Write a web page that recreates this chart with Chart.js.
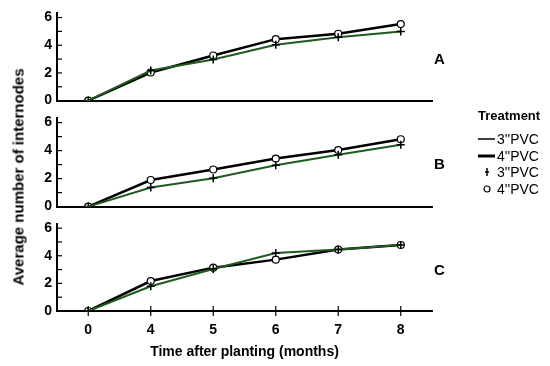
<!DOCTYPE html>
<html>
<head>
<meta charset="utf-8">
<script src="https://cdn.jsdelivr.net/npm/chart.js"></script>
<style>
  body { margin: 0; background: #fff; font-family: "Liberation Sans", Arial, sans-serif; }
  #wrap { position: relative; width: 550px; height: 366px; overflow: hidden; }
  .panel { position: absolute; left: 0; width: 440px; }
  .tag { position: absolute; left: 434px; font-weight: bold; font-size: 15px; }
  #ytitle { position: absolute; left: 18px; top: 177px; transform: translate(-50%, -50%) rotate(-90deg);
            white-space: nowrap; font-weight: bold; font-size: 15px; }
  #legend { position: absolute; left: 478px; top: 108px; font-size: 14px; }
  #legend .head { font-weight: bold; font-size: 13px; margin-bottom: 8px; }
  #legend .row { height: 16.5px; line-height: 16.5px; position: relative; padding-left: 19px; }
  #legend .sym { position: absolute; left: 0; top: 0; width: 17px; height: 16px; }
</style>
</head>
<body>
<div id="wrap">
  <div class="panel" style="top:0;height:114px"><canvas id="chartA"></canvas></div>
  <div class="panel" style="top:105px;height:115px"><canvas id="chartB"></canvas></div>
  <div class="panel" style="top:210px;height:156px"><canvas id="chartC"></canvas></div>
  <div class="tag" style="top:50px">A</div>
  <div class="tag" style="top:155px">B</div>
  <div class="tag" style="top:261px">C</div>
  <div id="ytitle">Average number of internodes</div>
  <div id="legend">
    <div class="head">Treatment</div>
    <div class="row"><svg class="sym"><line x1="0" y1="8" x2="17" y2="8" stroke="#000" stroke-width="1.5"/></svg>3''PVC</div>
    <div class="row"><svg class="sym"><line x1="0" y1="8" x2="17" y2="8" stroke="#000" stroke-width="3"/></svg>4''PVC</div>
    <div class="row"><svg class="sym"><line x1="9" y1="4" x2="9" y2="12" stroke="#000" stroke-width="1.5"/><line x1="7" y1="8" x2="11" y2="8" stroke="#000" stroke-width="1.5"/></svg>3''PVC</div>
    <div class="row"><svg class="sym"><circle cx="9" cy="8" r="3" fill="#fff" stroke="#000" stroke-width="1.2"/></svg>4''PVC</div>
  </div>
</div>
<script>
const months = ["0", "4", "5", "6", "7", "8"];
const yTicks = [0, 2, 4, 6];

const a3 = [0, 2.17, 2.97, 4.03, 4.57, 5.0];
const a4 = [0, 2.03, 3.26, 4.44, 4.83, 5.53];
const b3 = [0, 1.36, 2.02, 2.96, 3.71, 4.41];
const b4 = [0, 1.90, 2.65, 3.43, 4.04, 4.81];
const c3 = [0, 1.79, 3.04, 4.20, 4.45, 4.78];
const c4 = [0, 2.17, 3.14, 3.72, 4.45, 4.78];

const FONT = "'Liberation Sans', Arial, sans-serif";

// small tick marks inside the y axis, crossing marks on the x axis
const tickMarks = {
  id: "tickMarks",
  afterDraw(chart, args, opts) {
    const { ctx, chartArea } = chart;
    const y = chart.scales.y, x = chart.scales.x;
    ctx.save();
    ctx.strokeStyle = "#000";
    ctx.lineWidth = 1.2;
    for (let v = 1; v <= 6; v++) {
      const py = y.getPixelForValue(v);
      ctx.beginPath();
      ctx.moveTo(chartArea.left, py);
      ctx.lineTo(chartArea.left + 5, py);
      ctx.stroke();
    }
    if (opts.xTicks) {
      months.forEach((m, i) => {
        const px = x.getPixelForValue(i);
        ctx.beginPath();
        ctx.moveTo(px, chartArea.bottom - 5);
        ctx.lineTo(px, chartArea.bottom + 5);
        ctx.stroke();
      });
    }
    ctx.restore();
  }
};

function makePanel(id, s3, s4, pad, bottomAxis) {
  const ctx = document.getElementById(id);
  return new Chart(ctx, {
    type: "line",
    data: {
      labels: months,
      datasets: [
        {
          label: "3''PVC",
          data: s3,
          borderColor: "#1f5a1f",
          borderWidth: 2,
          pointStyle: "cross",
          pointRadius: 4,
          pointBorderColor: "#000",
          pointBorderWidth: 1.5,
          tension: 0,
        },
        {
          label: "4''PVC",
          data: s4,
          borderColor: "#000",
          borderWidth: 2.5,
          pointStyle: "circle",
          pointRadius: 3.5,
          pointBackgroundColor: "#fff",
          pointBorderColor: "#000",
          pointBorderWidth: 1.2,
          tension: 0,
        },
      ],
    },
    options: {
      responsive: true,
      maintainAspectRatio: false,
      animation: false,
      layout: { padding: pad },
      plugins: {
        legend: { display: false },
        tooltip: { enabled: false },
        tickMarks: { xTicks: bottomAxis },
      },
      scales: {
        x: {
          type: "category",
          offset: true,
          grid: { display: false, drawTicks: false },
          border: { display: true, color: "#000", width: 2 },
          ticks: {
            display: bottomAxis,
            padding: 11,
            color: "#000",
            font: { family: FONT, size: 14, weight: "bold" },
          },
          title: {
            display: bottomAxis,
            text: "Time after planting (months)",
            color: "#000",
            font: { family: FONT, size: 14, weight: "bold" },
            padding: { top: 0, bottom: 5 },
          },
          afterFit: (s) => { s.height = bottomAxis ? 55 : 0; },
        },
        y: {
          min: 0,
          max: 6.3,
          grid: { display: false, drawTicks: false },
          border: { display: true, color: "#000", width: 2 },
          ticks: {
            stepSize: 2,
            includeBounds: false,
            padding: 5,
            color: "#000",
            font: { family: FONT, size: 14, weight: "bold" },
            callback: (v) => (yTicks.includes(v) ? String(v) : ""),
          },
          afterFit: (s) => { s.width = 57; },
        },
      },
    },
    plugins: [tickMarks],
  });
}

makePanel("chartA", a3, a4, { top: 12, bottom: 5, left: 0, right: 8 }, false);
makePanel("chartB", b3, b4, { top: 12, bottom: 3, left: 0, right: 8 }, false);
makePanel("chartC", c3, c4, { top: 14, bottom: 0, left: 0, right: 8 }, true);
</script>
</body>
</html>
